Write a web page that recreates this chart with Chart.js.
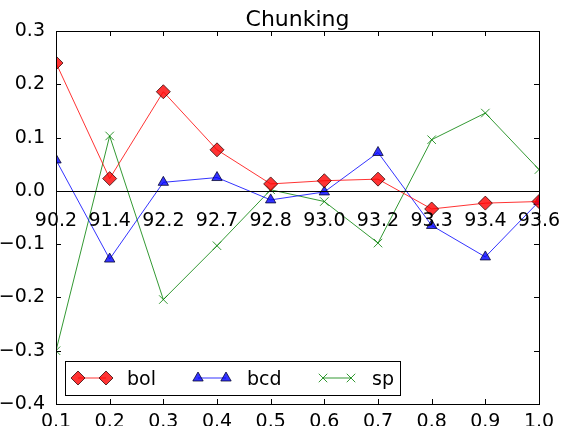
<!DOCTYPE html>
<html>
<head>
<meta charset="utf-8">
<script src="https://cdn.jsdelivr.net/npm/chart.js@4.4.0/dist/chart.umd.min.js"></script>
<style>
  html, body { margin: 0; padding: 0; background: #fff; }
  #wrap { width: 573px; height: 426px; }
</style>
</head>
<body>
<div id="wrap"><canvas id="chunkChart" width="573" height="426"></canvas></div>
<script>
// data
const xValues = [0.1, 0.2, 0.3, 0.4, 0.5, 0.6, 0.7, 0.8, 0.9, 1.0];
const bolValues = [0.240, 0.023, 0.186, 0.077, 0.013, 0.019, 0.022, -0.034, -0.023, -0.020];
const bcdValues = [0.058, -0.128, 0.016, 0.025, -0.017, -0.002, 0.072, -0.065, -0.124, -0.020];
const spValues = [-0.300, 0.103, -0.204, -0.103, 0.002, -0.020, -0.098, 0.096, 0.146, 0.040];
const scoreLabels = ["90.2", "91.4", "92.2", "92.7", "92.8", "93.0", "93.2", "93.3", "93.4", "93.6"];
const xTicks = [0.1, 0.2, 0.3, 0.4, 0.5, 0.6, 0.7, 0.8, 0.9, 1.0];
const yTicks = [-0.4, -0.3, -0.2, -0.1, 0.0, 0.1, 0.2, 0.3];

const FONT = "DejaVu Sans";

function toPoints(vals) {
    return xValues.map((x, i) => ({ x: x, y: vals[i] }));
}

function fmt(v) {
    return v.toFixed(1).replace("-", "\u2212");
}

// frame, inward ticks, zero line, score labels, title, legend
const decorPlugin = {
    id: "decor",
    afterDatasetsDraw(chart) {
        const ctx = chart.ctx;
        const a = chart.chartArea;
        const xs = chart.scales.x, ys = chart.scales.y;
        ctx.save();

        // zero line
        const y0 = Math.round(ys.getPixelForValue(0)) + 0.5;
        ctx.strokeStyle = "#000";
        ctx.lineWidth = 1;
        ctx.beginPath();
        ctx.moveTo(a.left, y0);
        ctx.lineTo(a.right, y0);
        ctx.stroke();

        // score labels under the zero line
        ctx.fillStyle = "#000";
        ctx.font = "19px '" + FONT + "'";
        ctx.textAlign = "center";
        ctx.textBaseline = "alphabetic";
        xValues.forEach((x, i) => {
            ctx.fillText(scoreLabels[i], xs.getPixelForValue(x), y0 + 34);
        });

        // frame
        ctx.strokeStyle = "#000";
        ctx.lineWidth = 1;
        ctx.strokeRect(Math.round(a.left) + 0.5, Math.round(a.top) + 0.5,
            Math.round(a.right - a.left), Math.round(a.bottom - a.top));

        // inward ticks on all sides
        ctx.beginPath();
        xTicks.forEach(t => {
            const px = Math.round(xs.getPixelForValue(t)) + 0.5;
            ctx.moveTo(px, a.bottom); ctx.lineTo(px, a.bottom - 5);
            ctx.moveTo(px, a.top); ctx.lineTo(px, a.top + 5);
        });
        yTicks.forEach(t => {
            const py = Math.round(ys.getPixelForValue(t)) + 0.5;
            ctx.moveTo(a.left, py); ctx.lineTo(a.left + 5, py);
            ctx.moveTo(a.right, py); ctx.lineTo(a.right - 5, py);
        });
        ctx.stroke();

        // title
        ctx.font = "22px '" + FONT + "'";
        ctx.textAlign = "center";
        ctx.textBaseline = "alphabetic";
        ctx.fillText("Chunking", (a.left + a.right) / 2, 26);

        // legend
        const bx = 65, by = 361, bw = 335, bh = 34;
        ctx.fillStyle = "#fff";
        ctx.fillRect(bx, by, bw, bh);
        ctx.strokeStyle = "#000";
        ctx.strokeRect(bx + 0.5, by + 0.5, bw, bh);
        const starts = [78, 198, 323];
        const cy = by + bh / 2;
        chart.data.datasets.forEach((ds, i) => {
            const x1 = starts[i], x2 = x1 + 28;
            ctx.strokeStyle = ds.borderColor;
            ctx.lineWidth = 1;
            ctx.beginPath();
            ctx.moveTo(x1, cy); ctx.lineTo(x2, cy);
            ctx.stroke();
            [x1, x2].forEach(px => {
                ctx.fillStyle = ds.pointBackgroundColor;
                ctx.strokeStyle = ds.pointBorderColor;
                ctx.lineWidth = ds.pointBorderWidth;
                Chart.helpers.drawPoint(ctx, {
                    pointStyle: ds.pointStyle, radius: ds.pointRadius, borderWidth: ds.pointBorderWidth
                }, px, cy);
            });
            ctx.fillStyle = "#000";
            ctx.font = "19px '" + FONT + "'";
            ctx.textAlign = "left";
            ctx.textBaseline = "alphabetic";
            ctx.fillText(ds.label, x2 + 21, cy + 7);
        });

        ctx.restore();
    }
};

const canvas = document.getElementById("chunkChart");
new Chart(canvas.getContext("2d"), {
    type: "line",
    data: {
        datasets: [
            {
                label: "bol", data: toPoints(bolValues),
                borderColor: "rgba(255,0,0,0.8)", borderWidth: 1,
                pointStyle: "rectRot", pointRadius: 7,
                pointBackgroundColor: "rgba(255,0,0,0.8)",
                pointBorderColor: "rgba(40,0,0,0.75)", pointBorderWidth: 1,
                fill: false, tension: 0, clip: 0
            },
            {
                label: "bcd", data: toPoints(bcdValues),
                borderColor: "rgba(0,0,255,0.8)", borderWidth: 1,
                pointStyle: "triangle", pointRadius: 6,
                pointBackgroundColor: "rgba(0,0,255,0.8)",
                pointBorderColor: "rgba(0,0,40,0.75)", pointBorderWidth: 1,
                fill: false, tension: 0, clip: 0
            },
            {
                label: "sp", data: toPoints(spValues),
                borderColor: "rgba(0,128,0,0.8)", borderWidth: 1,
                pointStyle: "crossRot", pointRadius: 6,
                pointBackgroundColor: "rgba(0,128,0,0.8)",
                pointBorderColor: "rgba(0,128,0,0.8)", pointBorderWidth: 1,
                fill: false, tension: 0, clip: 0
            }
        ]
    },
    options: {
        responsive: false,
        animation: false,
        layout: { padding: { top: 31, right: 34, left: 0, bottom: 0 } },
        plugins: { legend: { display: false }, title: { display: false }, tooltip: { enabled: false } },
        scales: {
            x: {
                type: "linear", min: 0.1, max: 1.0,
                afterBuildTicks: s => { s.ticks = xTicks.map(v => ({ value: v })); },
                afterFit: s => { s.height = 22; },
                grid: { display: false },
                border: { display: false },
                ticks: {
                    padding: -1, color: "#000",
                    font: { family: FONT, size: 19 },
                    callback: v => fmt(v), maxRotation: 0, autoSkip: false
                }
            },
            y: {
                type: "linear", min: -0.4, max: 0.3,
                afterBuildTicks: s => { s.ticks = yTicks.map(v => ({ value: v })); },
                afterFit: s => { s.width = 56; },
                grid: { display: false },
                border: { display: false },
                ticks: {
                    padding: 3, color: "#000",
                    font: { family: FONT, size: 19 },
                    callback: v => fmt(v)
                }
            }
        }
    },
    plugins: [decorPlugin]
});
</script>
</body>
</html>
